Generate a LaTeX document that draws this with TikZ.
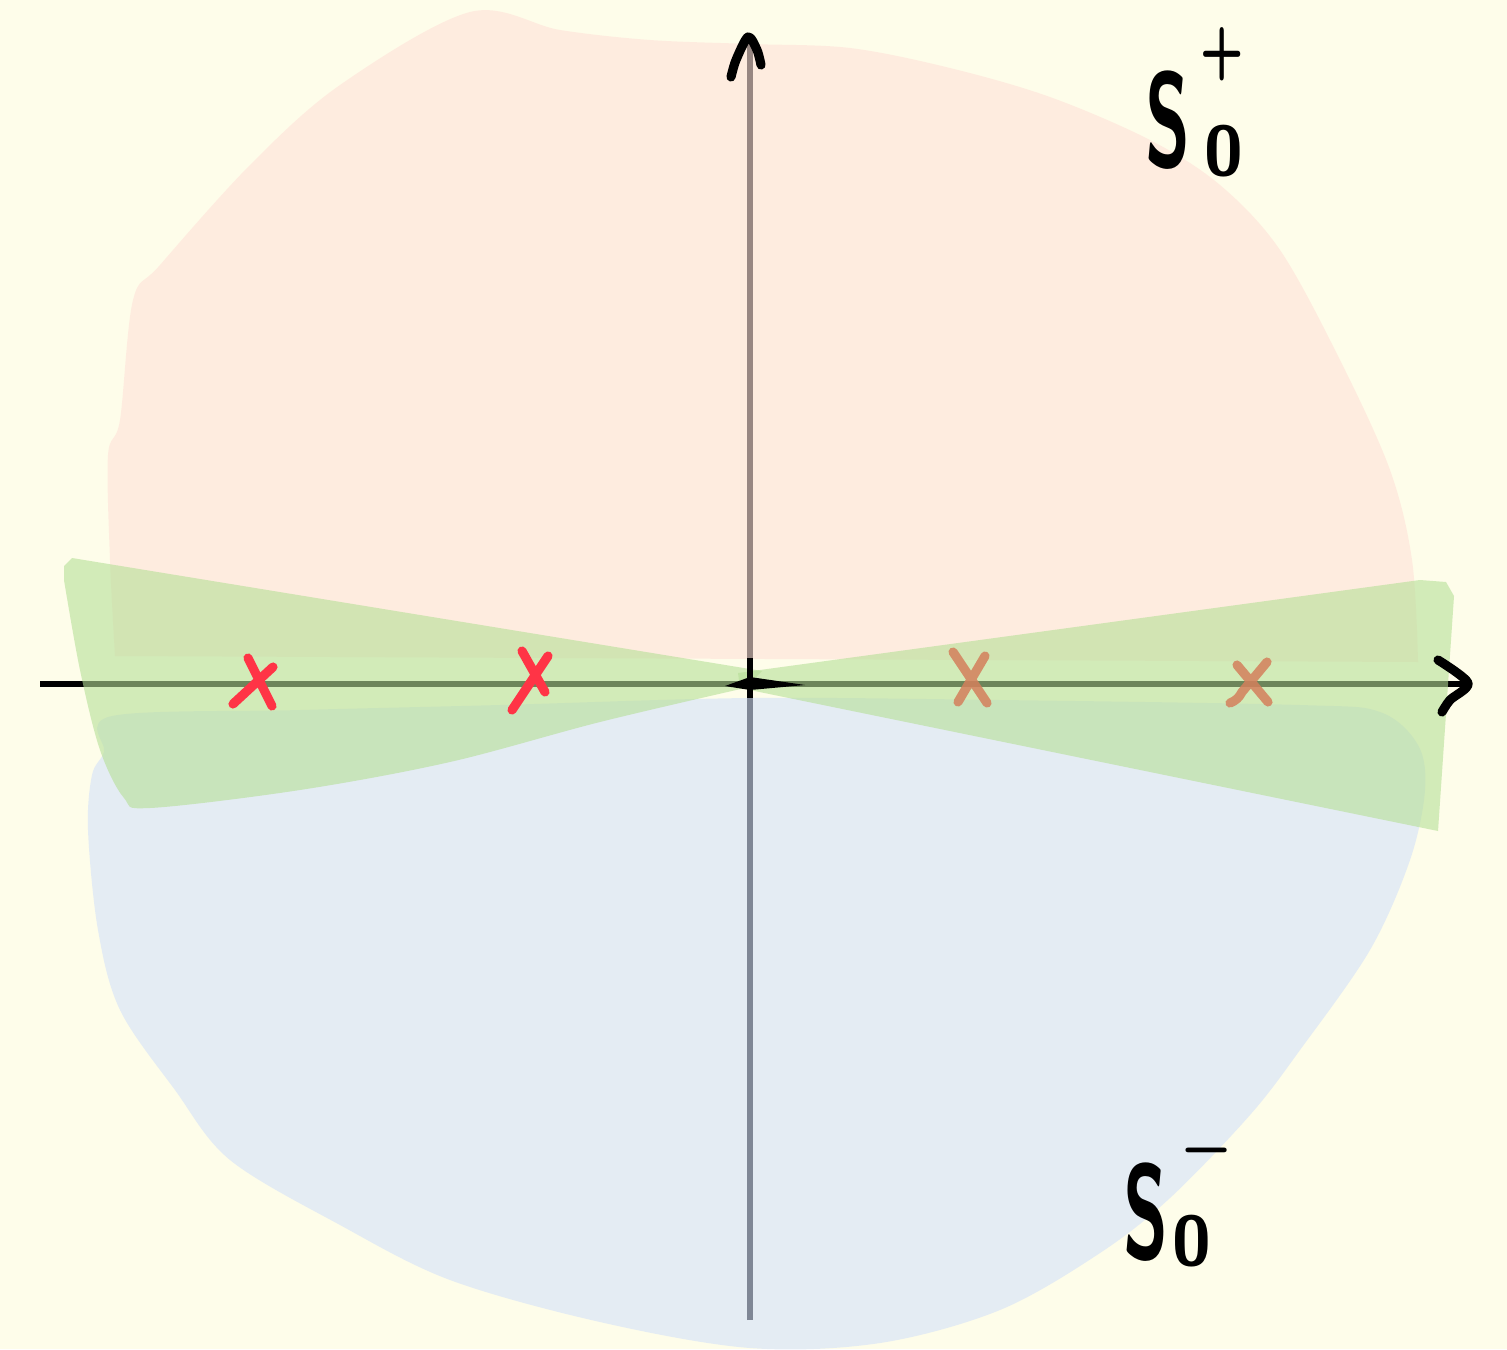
\documentclass[tikz,border=0pt]{standalone}
\usepackage{tikz}
\usepackage{graphicx}
\usetikzlibrary{calc}
\definecolor{paper}{RGB}{254,253,234}
\definecolor{sectorPink}{RGB}{254,226,217}
\definecolor{sectorBlue}{RGB}{212,225,249}
\definecolor{sectorGreen}{RGB}{182,223,151}
\definecolor{poleRed}{RGB}{255,52,70}
\definecolor{poleOrange}{RGB}{212,128,92}

\begin{document}
\begin{tikzpicture}[x=0.01cm, y=-0.01cm,
  zone/.style={fill opacity=0.6},
  axisline/.style={line width=1.6pt, black},
  arrowstroke/.style={line width=2.6pt, line cap=round, line join=round},
  redpole/.style={line width=2.6pt, line cap=round, poleRed},
  orangepole/.style={line width=2.6pt, line cap=round, poleOrange, opacity=0.85},
  sector/.style={inner sep=0pt, anchor=base west, font=\sffamily\bfseries\fontsize{38}{38}\selectfont},
]
  \fill[paper] (0,0) rectangle (1507,1349);
  \useasboundingbox (0,0) rectangle (1507,1349);

  % Axes (under the sectors)
  \coordinate (origin) at (750,684);
  \coordinate (xl) at (40,684);
  \coordinate (xr) at (1466,684);
  \coordinate (yb) at (750,1320);
  \coordinate (yt) at (750,40);
  \draw[axisline] (xl) -- (xr);
  \draw[axisline] (yb) -- (yt);

  % Sector S0+
  \fill[sectorPink, zone] (1418,662) -- (115,656) -- plot[smooth, tension=0.55] coordinates {
    (115,656) (110,560) (108,455) (120,420) (133,300) (160,265) (250,165) (340,85)
    (470,12) (560,30) (650,40) (750,44) (850,48) (950,68) (1050,97) (1150,140)
    (1220,185) (1280,250) (1340,360) (1390,470) (1412,560) (1418,662)} -- cycle;

  % Sector S0-
  \fill[sectorBlue, zone] plot[smooth cycle, tension=0.55] coordinates {
    (112,716) (300,710) (500,705) (750,698) (1000,700) (1300,705) (1380,712)
    (1418,745) (1425,790) (1410,860) (1370,950) (1300,1050) (1250,1115) (1170,1198)
    (1100,1253) (1000,1310) (880,1343) (750,1348) (600,1322) (450,1280) (340,1225)
    (230,1160) (175,1090) (120,1010) (98,930) (88,830) (92,775) (104,752)};

  % Stokes wedges
  \fill[sectorGreen, zone] (72,558) -- (762,671) -- plot[smooth, tension=0.55] coordinates {
    (745,688) (600,722) (450,762) (300,790) (150,808) (124,798) (100,750) (80,670) (64,580)}
    -- (64,566) -- cycle;
  \fill[sectorGreen, zone] (738,673) -- (1420,580) -- (1446,582) -- (1454,596)
    -- (1438,831) -- (740,688) -- cycle;

  % Origin
  \fill (725,686) -- (750,677) -- (805,685) -- (750,690) -- cycle;
  \draw[axisline] (750,658) -- (750,698);

  % Arrow heads
  \draw[arrowstroke] plot[smooth] coordinates {(1438,660) (1468,683) (1450,700) (1442,712)};
  \draw[arrowstroke] plot[smooth] coordinates {(731,77) (736,60) (748,37) (757,50) (761,65)};

  % Poles
  \draw[redpole] (248,658) -- (272,706) (273,667) -- (233,704);
  \draw[redpole] (522,651) -- (545,692) (548,656) -- (512,710);
  \draw[orangepole] (953,652) -- (987,703) (985,656) -- (958,702);
  \draw[orangepole] (1237,665) -- (1268,702) (1267,662) -- (1242,692) to[bend left=20] (1230,703);

  % Labels
  \node[sector] (splus) at (1145,167) {\scalebox{0.55}[1]{S}\kern4pt\raisebox{-2.3pt}{\fontsize{20}{20}\selectfont 0}\llap{\raisebox{27pt}{\scalebox{0.8}[1.15]{\fontsize{18}{18}\selectfont +}}}};
  \node[sector] (sminus) at (1123,1258) {\scalebox{0.55}[1]{S}\kern1pt\raisebox{-2pt}{\fontsize{20}{20}\selectfont 0}\raisebox{26.5pt}{\kern-8pt\fontsize{16}{16}\selectfont −}};
\end{tikzpicture}
\end{document}
